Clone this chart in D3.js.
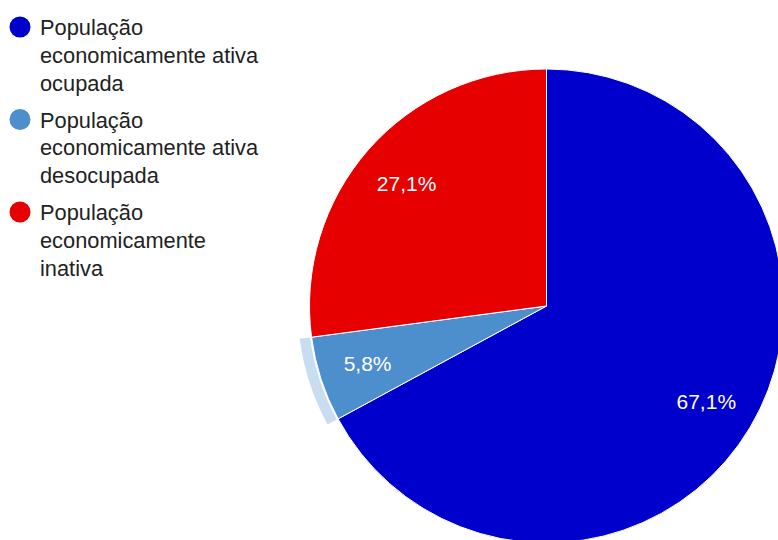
<!DOCTYPE html>
<html>
<head>
<meta charset="utf-8">
<script src="https://cdn.jsdelivr.net/npm/d3@7"></script>
<style>
  html, body { margin: 0; padding: 0; background: #fff; }
  svg { display: block; }
</style>
</head>
<body>
<svg id="chart" width="778" height="540"></svg>
<script>
// Distribuição da população por condição de atividade
const categories = [
  "População economicamente ativa ocupada",
  "População economicamente ativa desocupada",
  "População economicamente inativa"
];
const legendLines = [
  ["População", "economicamente ativa", "ocupada"],
  ["População", "economicamente ativa", "desocupada"],
  ["População", "economicamente", "inativa"]
];
const values = [67.1, 5.8, 27.1];
const labels = ["67,1%", "5,8%", "27,1%"];
const colors = ["#0000cc", "#4d8fcc", "#e60000"];
const highlighted = 1; // slice shown with hover ring

const svg = d3.select("#chart");
const font = "'Liberation Sans', Arial, sans-serif";

const cx = 546.5, cy = 306, radius = 237;

const pie = d3.pie().sort(null).value(d => d);
const arcs = pie(values);

const arc = d3.arc().innerRadius(0).outerRadius(radius);
const ring = d3.arc().innerRadius(radius + 1.5).outerRadius(radius + 12);
const labelArc = d3.arc().innerRadius(186).outerRadius(186);

const g = svg.append("g").attr("transform", `translate(${cx},${cy})`);

// hover ring around the highlighted slice
g.append("path")
  .attr("d", ring(arcs[highlighted]))
  .attr("fill", colors[highlighted])
  .attr("fill-opacity", 0.3);

g.selectAll("path.slice")
  .data(arcs)
  .enter().append("path")
  .attr("class", "slice")
  .attr("d", arc)
  .attr("fill", (d, i) => colors[i])
  .attr("stroke", "#fff")
  .attr("stroke-width", 1);

g.selectAll("text.pct")
  .data(arcs)
  .enter().append("text")
  .attr("class", "pct")
  .attr("x", (d, i) => labelArc.centroid(d)[0] + (i === 1 ? -2 : 0))
  .attr("y", d => labelArc.centroid(d)[1] + 7.5)
  .attr("text-anchor", "middle")
  .attr("font-family", font)
  .attr("font-size", 21)
  .attr("fill", "#fff")
  .text((d, i) => labels[i]);

// legend
const entryY = [27, 119.5, 212];
const legend = svg.append("g");
categories.forEach((c, i) => {
  const e = legend.append("g").attr("transform", `translate(0,${entryY[i]})`);
  e.append("circle")
    .attr("cx", 20).attr("cy", 0).attr("r", 10.5)
    .attr("fill", colors[i]);
  const t = e.append("text")
    .attr("font-family", font)
    .attr("font-size", 21.8)
    .attr("fill", "#222");
  legendLines[i].forEach((line, j) => {
    t.append("tspan")
      .attr("x", 40)
      .attr("y", 8 + j * 27.8)
      .text(line);
  });
});
</script>
</body>
</html>
